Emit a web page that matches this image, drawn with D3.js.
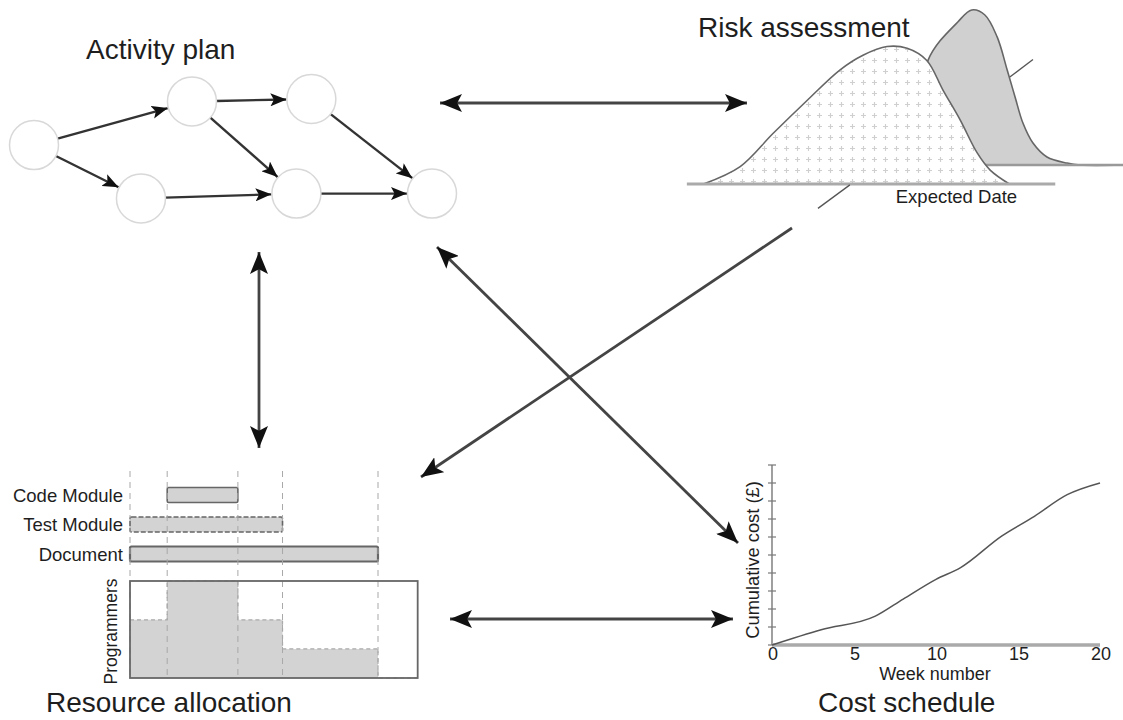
<!DOCTYPE html>
<html><head><meta charset="utf-8">
<script src="https://cdn.jsdelivr.net/npm/d3@7/dist/d3.min.js"></script>
<style>body{margin:0;background:#fff}svg{display:block;font-family:"Liberation Sans",Arial,sans-serif}</style>
</head><body><svg id="c" width="1123" height="720"></svg>
<script>
// ---------- data ----------
// Activity plan network
const nodeTime = [0, 6.35, 11.15, 4.3, 10.55, 16];
const nodeLane = [0.95, 0.05, 0, 2.05, 1.95, 1.95];
const edges = [[0,1],[0,3],[1,2],[1,4],[3,4],[2,5],[4,5]];
// Risk assessment
const planDays = [4, 12.4, 19.9, 27.7, 35.2, 40.5, 46, 50.6, 55.1, 58.8, 62.7, 66.6, 69.6, 74];
const planProb = [0, 0.10, 0.29, 0.48, 0.655, 0.74, 0.79, 0.78, 0.71, 0.54, 0.37, 0.18, 0.08, 0];
const riskDays = [52, 55.4, 62.2, 65.4, 68.4, 71.2, 73.5, 75.3, 77.1, 79.4, 82.6, 87.2, 90.2, 100];
const riskProb = [0, 0.603, 0.822, 0.891, 0.862, 0.736, 0.546, 0.391, 0.241, 0.126, 0.046, 0.011, 0, 0];
const expectedDay = 48;
// Resource allocation
const tasks = ["Code Module","Test Module","Document"];
const taskStart = [3, 0, 0];
const taskEnd = [8.7, 12.3, 20];
const gridWeeks = [0, 3, 8.7, 12.3, 20];
const staffBreaks = [0, 3, 8.7, 12.3, 20, 23.2];
const staffLevels = [3, 5, 3, 1.5, 0, 0];
// Cost schedule
const costWeeks = [0,3,6.3,8,10,11.5,14,16,18,20];
const costValues = [0,0.85,1.6,2.55,3.65,4.3,6.05,7.15,8.35,9.0];
const weekTicks = [0,5,10,15,20];
const titles = ["Activity plan","Risk assessment","Resource allocation","Cost schedule"];

// ---------- drawing ----------
const svg = d3.select("#c");
const defs = svg.append("defs");
function marker(id, len, wid){
  defs.append("marker").attr("id",id).attr("markerUnits","userSpaceOnUse")
    .attr("viewBox",`0 ${-wid/2} ${len} ${wid}`).attr("refX",len).attr("refY",0)
    .attr("markerWidth",len).attr("markerHeight",wid).attr("orient","auto-start-reverse")
    .append("path").attr("d",`M0,${-wid/2} L${len},0 L0,${wid/2} L${len*0.22},0 Z`).attr("fill","#111");
}
marker("big",22,18);
marker("small",16,13);
const pat = defs.append("pattern").attr("id","plus").attr("width",11).attr("height",11).attr("patternUnits","userSpaceOnUse");
pat.append("rect").attr("width",11).attr("height",11).attr("fill","#fff");
pat.append("path").attr("d","M5.5,3 V8 M3,5.5 H8").attr("stroke","#cfcfcf").attr("stroke-width",1.1);

const textCol = "#1e1e1e";

// Titles
const tpos = [[86,59],[698,37],[46,712],[818,712]];
titles.forEach((t,i)=>svg.append("text").attr("x",tpos[i][0]).attr("y",tpos[i][1])
  .attr("font-size",28).attr("fill",textCol).text(t));

// Activity plan
const ax = d3.scaleLinear([0,16],[34,432]);
const ay = d3.scaleLinear([0,2],[99,196]);
const R = 24.5;
const nodes = nodeTime.map((t,i)=>({x:ax(t), y:ay(nodeLane[i])}));
const gA = svg.append("g");
gA.selectAll("line").data(edges).join("line")
  .each(function(e){
    const a=nodes[e[0]], b=nodes[e[1]];
    const dx=b.x-a.x, dy=b.y-a.y, L=Math.hypot(dx,dy), ux=dx/L, uy=dy/L;
    d3.select(this).attr("x1",a.x+ux*R).attr("y1",a.y+uy*R).attr("x2",b.x-ux*(R+0.5)).attr("y2",b.y-uy*(R+0.5));
  })
  .attr("stroke","#333").attr("stroke-width",2.4).attr("marker-end","url(#small)");
gA.selectAll("circle").data(nodes).join("circle")
  .attr("cx",d=>d.x).attr("cy",d=>d.y).attr("r",R)
  .attr("fill","#fff").attr("stroke","#d8d8d8").attr("stroke-width",1.5);

// Risk assessment
const rx = d3.scaleLinear([0,100],[686,1123]);
const ry = d3.scaleLinear([0,1],[184,10]);
const gR = svg.append("g");
const riskPts = riskDays.map((d,i)=>[d,riskProb[i]]);
const planPts = planDays.map((d,i)=>[d,planProb[i]]);
const gShift = gR.append("g").attr("transform","translate(0,-19)");
gShift.append("path").datum(riskPts)
  .attr("d",d3.area().x(d=>rx(d[0])).y0(ry(0)).y1(d=>ry(d[1])).curve(d3.curveCatmullRom))
  .attr("fill","#d0d0d0");
gShift.append("path").datum(riskPts)
  .attr("d",d3.line().x(d=>rx(d[0])).y(d=>ry(d[1])).curve(d3.curveCatmullRom))
  .attr("fill","none").attr("stroke","#666").attr("stroke-width",1.6);
gShift.append("line").attr("x1",rx(66)).attr("x2",rx(100)).attr("y1",ry(0)).attr("y2",ry(0))
  .attr("stroke","#999").attr("stroke-width",2.5);
gR.append("path").datum(planPts)
  .attr("d",d3.area().x(d=>rx(d[0])).y0(ry(0)).y1(d=>ry(d[1])).curve(d3.curveCatmullRom))
  .attr("fill","url(#plus)");
gR.append("path").datum(planPts)
  .attr("d",d3.line().x(d=>rx(d[0])).y(d=>ry(d[1])).curve(d3.curveCatmullRom))
  .attr("fill","none").attr("stroke","#666").attr("stroke-width",1.6);
gR.append("line").attr("x1",rx(0.2)).attr("x2",rx(84.5)).attr("y1",ry(0)).attr("y2",ry(0))
  .attr("stroke","#aaa").attr("stroke-width",3);
gR.append("line").attr("x1",rx(30.2)).attr("y1",ry(-0.14)).attr("x2",rx(37.5)).attr("y2",ry(-0.005))
  .attr("stroke","#555").attr("stroke-width",1.3);
gR.append("line").attr("x1",rx(74.1)).attr("y1",ry(0.615)).attr("x2",rx(79.4)).attr("y2",ry(0.715))
  .attr("stroke","#555").attr("stroke-width",1.3);
gR.append("text").attr("x",rx(expectedDay)).attr("y",203).attr("font-size",18.5)
  .attr("fill",textCol).text("Expected Date");

// Resource allocation
const gx = d3.scaleLinear([0,20],[130,378]);
const gyPt = d3.scalePoint(tasks,[495,554]);
const barH = 15;
const gG = svg.append("g");
gG.selectAll("text.task").data(tasks).join("text").attr("class","task")
  .attr("x",123).attr("y",d=>gyPt(d)+6.5).attr("text-anchor","end").attr("font-size",18.5)
  .attr("fill",textCol).text(d=>d);
gG.selectAll("rect.bar").data(tasks).join("rect").attr("class","bar")
  .attr("x",(d,i)=>gx(taskStart[i])).attr("width",(d,i)=>gx(taskEnd[i])-gx(taskStart[i]))
  .attr("y",d=>gyPt(d)-barH/2).attr("height",barH)
  .attr("fill","#d3d3d3").attr("stroke","#666").attr("stroke-width",(d,i)=>i===2?2.2:1.6)
  .attr("stroke-dasharray",(d,i)=>i===1?"5,2":null).attr("rx",1.5);
const py = d3.scaleLinear([0,5],[678,581]);
const stepPts = staffBreaks.map((b,i)=>[b,staffLevels[i]]);
gG.append("path").datum(stepPts)
  .attr("d",d3.area().x(d=>gx(d[0])).y0(py(0)).y1(d=>py(d[1])).curve(d3.curveStepAfter))
  .attr("fill","#d3d3d3");
gG.append("path").datum(stepPts)
  .attr("d",d3.line().x(d=>gx(d[0])).y(d=>py(d[1])).curve(d3.curveStepAfter))
  .attr("fill","none").attr("stroke","#aaa").attr("stroke-width",1.2).attr("stroke-dasharray","4,3");
gG.selectAll("line.grid").data(gridWeeks).join("line").attr("class","grid")
  .attr("x1",d=>gx(d)).attr("x2",d=>gx(d)).attr("y1",471).attr("y2",678)
  .attr("stroke","#a8a8a8").attr("stroke-width",1).attr("stroke-dasharray","6,5");
gG.append("rect").attr("x",gx(0)).attr("y",py(5)).attr("width",gx(23.2)-gx(0)).attr("height",py(0)-py(5))
  .attr("fill","none").attr("stroke","#666").attr("stroke-width",1.8);
gG.append("text").attr("transform",`translate(117,${(py(0)+py(5))/2+2}) rotate(-90)`)
  .attr("text-anchor","middle").attr("font-size",17.5).attr("fill",textCol).text("Programmers");

// Cost schedule
const cx = d3.scaleLinear([0,20],[772,1100]);
const cy = d3.scaleLinear([0,10],[645,465]);
const gC = svg.append("g");
gC.append("line").attr("x1",cx(0)).attr("x2",cx(0)).attr("y1",cy(10)).attr("y2",cy(0))
  .attr("stroke","#777").attr("stroke-width",1.4);
gC.selectAll("line.yt").data(cy.ticks(10)).join("line").attr("class","yt")
  .attr("x1",cx(0)-4).attr("x2",cx(0)+4).attr("y1",d=>cy(d)).attr("y2",d=>cy(d))
  .attr("stroke","#777").attr("stroke-width",1.2);
gC.append("line").attr("x1",cx(0)).attr("x2",cx(20)).attr("y1",cy(0)).attr("y2",cy(0))
  .attr("stroke","#aaa").attr("stroke-width",3.5);
gC.append("path").datum(costWeeks.map((w,i)=>[w,costValues[i]]))
  .attr("d",d3.line().x(d=>cx(d[0])).y(d=>cy(d[1])).curve(d3.curveMonotoneX))
  .attr("fill","none").attr("stroke","#555").attr("stroke-width",1.5);
gC.selectAll("text.xt").data(weekTicks).join("text").attr("class","xt")
  .attr("x",d=>cx(d)+1).attr("y",660).attr("text-anchor","middle").attr("font-size",18)
  .attr("fill",textCol).text(d=>d);
gC.append("text").attr("x",935).attr("y",680).attr("text-anchor","middle").attr("font-size",18)
  .attr("fill",textCol).text("Week number");
gC.append("text").attr("transform",`translate(759,560) rotate(-90)`).attr("text-anchor","middle")
  .attr("font-size",18.3).attr("fill",textCol).text("Cumulative cost (£)");

// Connecting arrows between panels
const links = [
  {a:[440,103], b:[747,103], both:true},
  {a:[259,252], b:[259,448], both:true},
  {a:[437,247], b:[738,543], both:true},
  {a:[792,228], b:[421,477], both:false},
  {a:[450,619], b:[733,619], both:true}
];
svg.append("g").selectAll("line").data(links).join("line")
  .attr("x1",d=>d.a[0]).attr("y1",d=>d.a[1]).attr("x2",d=>d.b[0]).attr("y2",d=>d.b[1])
  .attr("stroke","#444").attr("stroke-width",2.8)
  .attr("marker-end","url(#big)").attr("marker-start",d=>d.both?"url(#big)":null);
</script></body></html>
